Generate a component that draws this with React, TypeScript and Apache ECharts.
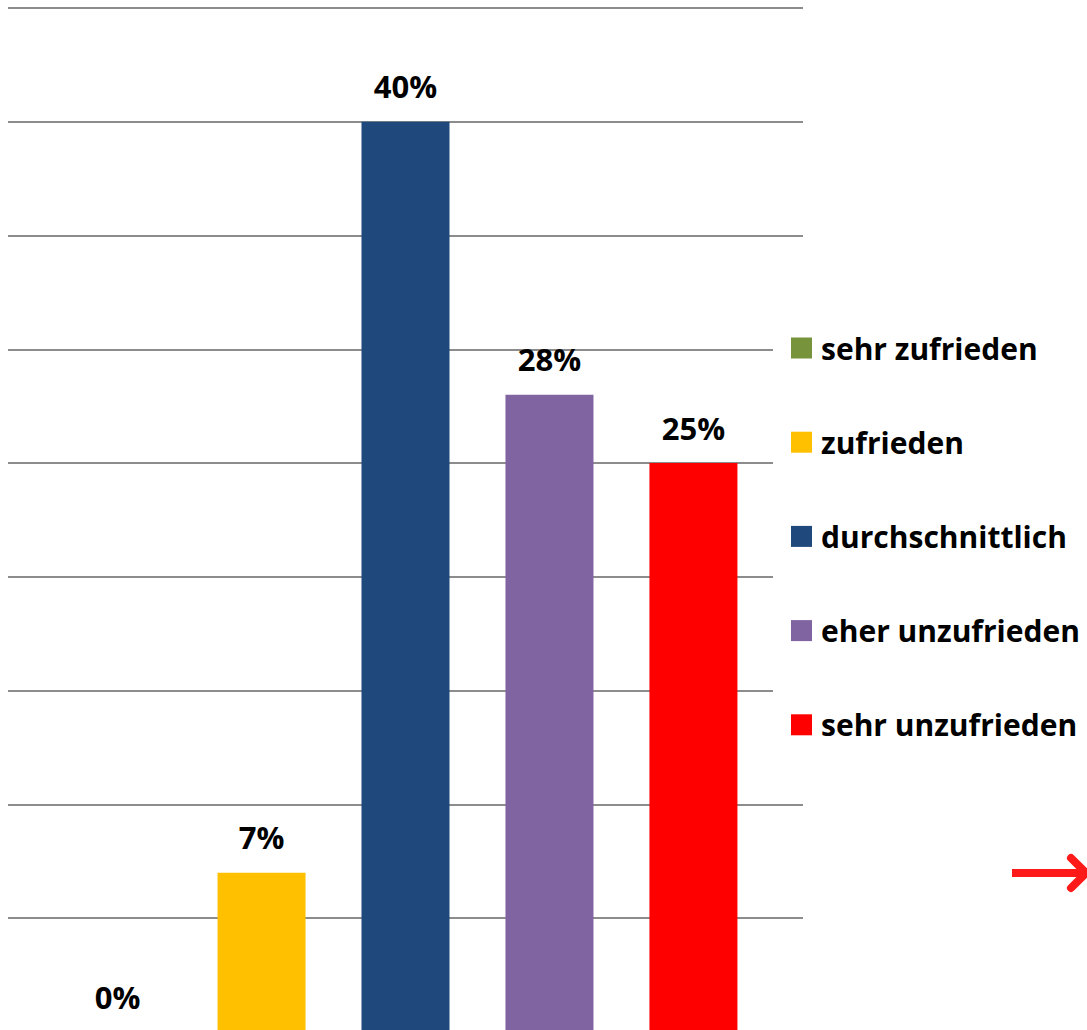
import React, { useEffect, useRef } from "react";
import * as echarts from "echarts";

const seriesNames = [
  "sehr zufrieden",
  "zufrieden",
  "durchschnittlich",
  "eher unzufrieden",
  "sehr unzufrieden",
];
const seriesValues = [0, 7, 40, 28, 25];
const seriesColors = ["#77933C", "#FFC000", "#1F497D", "#8064A2", "#FF0000"];
const categories = [""];

const FONT = "'Open Sans', 'Noto Sans', sans-serif";

export default function App() {
  const ref = useRef<HTMLDivElement>(null);
  useEffect(() => {
    if (!ref.current) return;
    const chart = echarts.init(ref.current, null, { renderer: "svg" });
    chart.setOption({
      animation: false,
      backgroundColor: "#ffffff",
      grid: { left: 8, right: 284, top: 8, bottom: 8, containLabel: false },
      xAxis: {
        type: "category",
        data: categories,
        axisLine: { show: false },
        axisTick: { show: false },
        axisLabel: { show: false },
      },
      yAxis: {
        type: "value",
        min: 0,
        max: 45,
        interval: 5,
        axisLine: { show: false },
        axisTick: { show: false },
        axisLabel: { show: false },
        splitLine: { lineStyle: { color: "#8c8c8c", width: 2 } },
      },
      legend: {
        orient: "vertical",
        left: 773,
        top: 315,
        padding: [18, 0, 18, 18],
        backgroundColor: "#ffffff",
        icon: "rect",
        itemWidth: 21,
        itemHeight: 21,
        itemGap: 64.2,
        data: seriesNames,
        textStyle: {
          fontFamily: FONT,
          fontWeight: "bold",
          fontSize: 30,
          lineHeight: 21,
          color: "#000000",
          padding: [0, 0, 0, 4],
        },
      },
      series: seriesNames.map((name, i) => ({
        name,
        type: "bar",
        data: [seriesValues[i]],
        barWidth: 88,
        barGap: "63.6%",
        itemStyle: { color: seriesColors[i] },
        label: {
          show: true,
          position: "top",
          distance: 20,
          formatter: "{c}%",
          fontFamily: FONT,
          fontWeight: "bold",
          fontSize: 31,
          color: "#000000",
        },
      })),
      graphic: [
        {
          type: "line",
          shape: { x1: 1012, y1: 873, x2: 1082, y2: 873 },
          style: { stroke: "#FF1A1A", lineWidth: 8, lineCap: "butt" },
        },
        {
          type: "polyline",
          shape: {
            points: [
              [1071, 858],
              [1086, 873],
              [1071, 888],
            ],
          },
          style: {
            stroke: "#FF1A1A",
            lineWidth: 8,
            lineCap: "round",
            lineJoin: "round",
            fill: "none",
          },
        },
      ],
    });
    return () => chart.dispose();
  }, []);
  return (
    <div
      ref={ref}
      style={{ position: "fixed", left: 0, top: 0, width: 1087, height: 1040 }}
    />
  );
}
